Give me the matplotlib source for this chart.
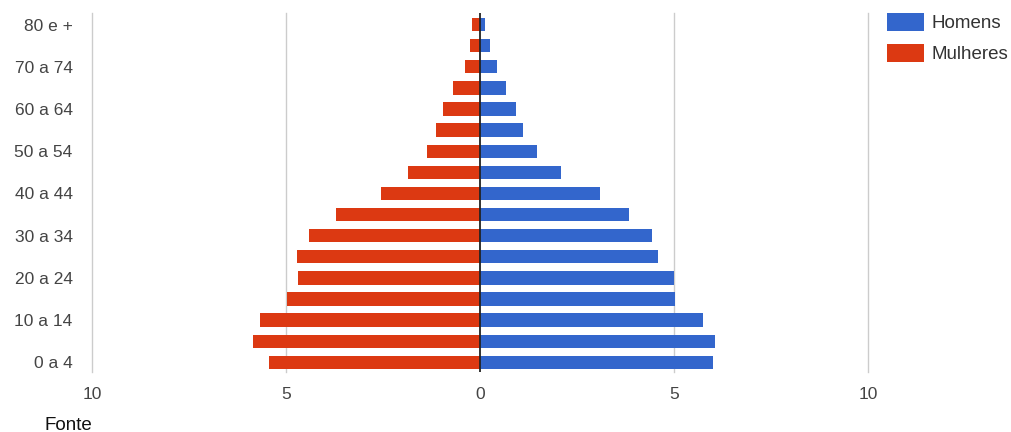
import matplotlib
matplotlib.use("Agg")
import matplotlib.pyplot as plt
from matplotlib.patches import Patch

plt.rcParams["font.family"] = ["Liberation Sans", "DejaVu Sans"]

# age groups, bottom to top
ages = ["0 a 4", "5 a 9", "10 a 14", "15 a 19", "20 a 24", "25 a 29", "30 a 34",
		"35 a 39", "40 a 44", "45 a 49", "50 a 54", "55 a 59", "60 a 64",
		"65 a 69", "70 a 74", "75 a 79", "80 e +"]
homens = [6.01, 6.05, 5.75, 5.03, 5.00, 4.58, 4.43, 3.83, 3.08, 2.08,
		  1.46, 1.11, 0.93, 0.66, 0.44, 0.25, 0.13]
mulheres = [5.43, 5.86, 5.66, 4.98, 4.68, 4.72, 4.42, 3.70, 2.54, 1.85,
			1.36, 1.14, 0.96, 0.69, 0.39, 0.27, 0.20]
xticks = [-10, -5, 0, 5, 10]
xticklabels = ["10", "5", "0", "5", "10"]

blue = "#3366cc"
red = "#dc3912"

fig = plt.figure(figsize=(10.11, 4.32), dpi=100)
ax = fig.add_axes([92 / 1011, 1 - 372 / 432, (868 - 92) / 1011, (372 - 13) / 432])

pos = list(range(len(ages)))
ax.barh(pos, homens, height=0.63, color=blue, zorder=2)
ax.barh(pos, [-m for m in mulheres], height=0.63, color=red, zorder=2)

for x in [-10, -5, 5, 10]:
	ax.axvline(x, color="#cccccc", lw=1, zorder=1, clip_on=False)
ax.axvline(0, color="#222222", lw=1.3, zorder=3)

ax.set_xlim(-10, 10)
ax.set_ylim(-0.46, 16.55)
ax.set_xticks(xticks)
ax.set_xticklabels(xticklabels)
ax.set_yticks(pos[::2])
ax.set_yticklabels(ages[::2])
ax.tick_params(axis="both", length=0, labelsize=12.5, colors="#444444")
ax.tick_params(axis="x", pad=10.5)
ax.tick_params(axis="y", pad=14)
for s in ax.spines.values():
	s.set_visible(False)

handles = [Patch(facecolor=blue, label="Homens"), Patch(facecolor=red, label="Mulheres")]
fig.legend(handles=handles, loc="upper left", bbox_to_anchor=(887 / 1011, 1 - 13 / 432),
		   frameon=False, fontsize=13.5, borderpad=0, borderaxespad=0,
		   handlelength=1.95, handleheight=1.1, handletextpad=0.4,
		   labelspacing=0.6, labelcolor="#333333")

fig.text(45 / 1011, 1 - 425 / 432, "Fonte", fontsize=13.5, va="center", ha="left", color="#111111")

fig.savefig("out.png", dpi=100)
